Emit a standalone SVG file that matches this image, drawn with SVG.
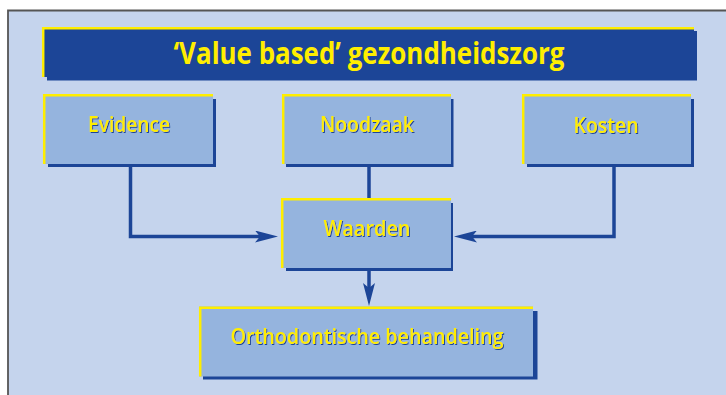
<svg xmlns="http://www.w3.org/2000/svg" width="726" height="395" viewBox="0 0 726 395">
  <style>
    .shadow { fill: #1c4597; }
    .fill { fill: #95b4de; }
    .edge { fill: none; stroke: #ffee00; stroke-width: 2.5; }
    .lbl { font-family: "Open Sans", "Liberation Sans", sans-serif; font-weight: 600; font-size: 21px; fill: #ffee00; text-anchor: middle; filter: url(#ts); }
    .title { font-family: "Open Sans", "Liberation Sans", sans-serif; font-weight: 700; font-size: 30px; fill: #ffee00; text-anchor: middle; }
    .conn { fill: none; stroke: #1c4597; stroke-width: 3.5; stroke-linejoin: miter; }
  </style>
  <defs>
    <filter id="ts" x="-10%" y="-20%" width="120%" height="150%">
      <feOffset in="SourceAlpha" dx="1.2" dy="1.2" result="o"/>
      <feFlood flood-color="#1c4597"/>
      <feComposite in2="o" operator="in" result="s"/>
      <feMerge><feMergeNode in="s"/><feMergeNode in="SourceGraphic"/></feMerge>
    </filter>
    <marker id="arr" viewBox="0 0 23 12" markerWidth="23" markerHeight="12" markerUnits="userSpaceOnUse" refX="5" refY="6" orient="auto">
      <path d="M0,0 L23,6 L0,12 L5,6 Z" fill="#1c4597"/>
    </marker>
  </defs>

  <!-- frame -->
  <rect x="8" y="10" width="718" height="385" fill="#c5d4ed"/>
  <path d="M8,395 V10.5 H726" fill="none" stroke="#555" stroke-width="1.8"/>

  <!-- title -->
  <g id="title">
    <rect class="shadow" x="47" y="31" width="650" height="49.5"/>
    <rect class="shadow" x="42" y="27" width="652" height="50"/>
    <path class="edge" d="M43.2,77 V28.2 H694"/>
    <text class="title" x="369" y="64" textLength="391" lengthAdjust="spacingAndGlyphs">‘Value based’ gezondheidszorg</text>
  </g>

  <!-- connectors -->
  <g id="connectors">
    <path class="conn" d="M130.5,165 V236.5 H260" marker-end="url(#arr)"/>
    <path class="conn" d="M614,165 V236.5 H472" marker-end="url(#arr)"/>
    <path class="conn" d="M369,165 V199"/>
    <path class="conn" d="M369,270 V288" marker-end="url(#arr)"/>
  </g>

  <g id="evidence">
    <rect class="shadow" x="48" y="99" width="168" height="68"/>
    <rect class="fill" x="43" y="94" width="170" height="70"/>
    <path class="edge" d="M44.2,164 V95.2 H213"/>
    <text class="lbl" x="129" y="132" textLength="82" lengthAdjust="spacingAndGlyphs">Evidence</text>
  </g>

  <g id="noodzaak">
    <rect class="shadow" x="286" y="99" width="167.5" height="68"/>
    <rect class="fill" x="282" y="94" width="169" height="70"/>
    <path class="edge" d="M283.2,164 V95.2 H451"/>
    <text class="lbl" x="367" y="132" textLength="94" lengthAdjust="spacingAndGlyphs">Noodzaak</text>
  </g>

  <g id="kosten">
    <rect class="shadow" x="527" y="99" width="167" height="68"/>
    <rect class="fill" x="522" y="94" width="169" height="70"/>
    <path class="edge" d="M523.2,164 V95.2 H691"/>
    <text class="lbl" x="606" y="132.5" textLength="65" lengthAdjust="spacingAndGlyphs">Kosten</text>
  </g>

  <g id="waarden">
    <rect class="shadow" x="286" y="203" width="167" height="68"/>
    <rect class="fill" x="281" y="198" width="170" height="70"/>
    <path class="edge" d="M282.2,268 V199.2 H451"/>
    <text class="lbl" x="367" y="236" textLength="87" lengthAdjust="spacingAndGlyphs">Waarden</text>
  </g>

  <g id="orthodontische">
    <rect class="shadow" x="203" y="311" width="334.5" height="68.5"/>
    <rect class="fill" x="199" y="306.5" width="334" height="70"/>
    <path class="edge" d="M200.2,376.5 V307.7 H533"/>
    <text class="lbl" x="367" y="343.5" textLength="273" lengthAdjust="spacingAndGlyphs">Orthodontische behandeling</text>
  </g>
</svg>
